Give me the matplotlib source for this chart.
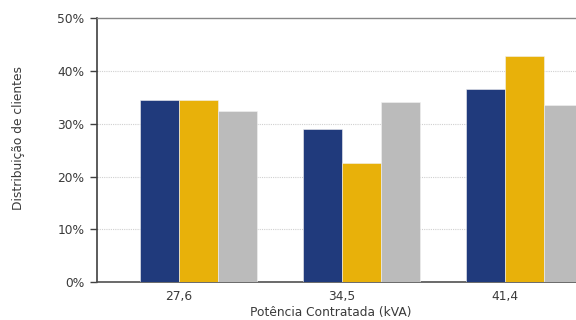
import matplotlib
matplotlib.use("Agg")
import matplotlib.pyplot as plt
import numpy as np

categories = ["27,6", "34,5", "41,4"]
serie_azul = [34.5, 29.0, 36.5]
serie_amarela = [34.5, 22.5, 42.9]
serie_cinza = [32.4, 34.1, 33.5]
y_ticks = [0, 10, 20, 30, 40, 50]

cores = ["#203A7C", "#E8B10A", "#BBBBBB"]
texto = "#3A3A3A"

plt.rcParams["font.family"] = ["DejaVu Sans"]

fig = plt.figure(figsize=(5.76, 3.2), dpi=100)
ax_w = (586.5 - 97) / 576
ax_h = (282 - 18.3) / 320
ax = fig.add_axes([97 / 576, 1 - 282 / 320, ax_w, ax_h])

x = np.arange(len(categories))
w = 0.239
offsets = [-0.5 * w, 0.5 * w, 1.5 * w]
for vals, off, c in zip([serie_azul, serie_amarela, serie_cinza], offsets, cores):
    ax.bar(x + off, vals, width=w, color=c, edgecolor="#F2F2F2", linewidth=0.4, zorder=3)

ax.set_xlim(-0.5, 2.5)
ax.set_ylim(0, 50)
ax.set_yticks(y_ticks)
ax.set_yticklabels([f"{t}%" for t in y_ticks], fontsize=8.8, color=texto)
ax.set_xticks(x)
ax.set_xticklabels(categories, fontsize=8.8, color=texto)
ax.tick_params(axis="x", length=0, pad=6)
ax.tick_params(axis="y", length=5, width=1, color="#404040", pad=4)

for t in y_ticks[1:-1]:
    ax.axhline(t, color="#D0D0D0", linewidth=0.8, linestyle=(0, (1, 1)), zorder=1)

ax.spines["left"].set_color("#404040")
ax.spines["left"].set_linewidth(1.2)
ax.spines["bottom"].set_color("#505050")
ax.spines["bottom"].set_linewidth(1.2)
ax.spines["top"].set_color("#888888")
ax.spines["top"].set_linewidth(1.0)
ax.spines["right"].set_visible(False)

ax.set_ylabel("Distribuição de clientes", fontsize=8.8, color=texto)
ax.yaxis.set_label_coords((25 - 97) / (586.5 - 97), (282 - 138.5) / (282 - 18.3))
ax.set_xlabel("Potência Contratada (kVA)", fontsize=8.8, color=texto)
ax.xaxis.set_label_coords((331 - 97) / (586.5 - 97), -(306 - 282) / (282 - 18.3))

fig.savefig("out.png", dpi=100)
